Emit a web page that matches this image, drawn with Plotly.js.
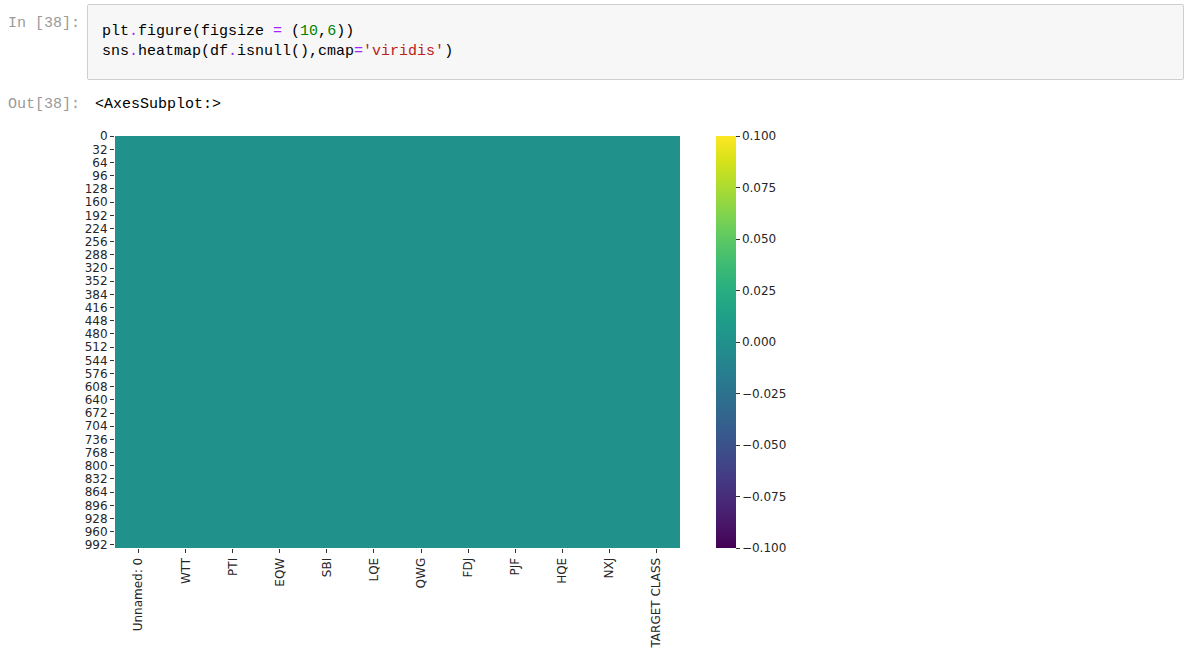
<!DOCTYPE html>
<html>
<head>
<meta charset="utf-8">
<script src="https://cdn.plot.ly/plotly-3.0.1.min.js"></script>
<style>
  html, body { margin: 0; padding: 0; background: #ffffff; width: 1187px; height: 648px; overflow: hidden; }
  #chart { position: absolute; left: 0; top: 0; width: 1187px; height: 648px; }
  .mono { position: absolute; font-family: "Liberation Mono", "DejaVu Sans Mono", monospace; font-size: 15px; line-height: 20px; white-space: pre; }
  .prompt { color: #9a9a9a; }
  .cell { position: absolute; left: 87px; top: 4px; width: 1095px; height: 74px; background: #f7f7f7; border: 1px solid #cfcfcf; border-radius: 2px; }
  .op { color: #aa22ff; }
  .num { color: #008000; }
  .str { color: #ba2121; }
</style>
</head>
<body>
<div id="chart"></div>
<div class="cell"></div>
<div class="mono prompt" style="left:8px; top:14px;">In [38]:</div>
<div class="mono" style="left:102px; top:22px; color:#000;">plt<span class="op">.</span>figure(figsize <span class="op">=</span> (<span class="num">10</span>,<span class="num">6</span>))</div>
<div class="mono" style="left:102px; top:42px; color:#000;">sns<span class="op">.</span>heatmap(df<span class="op">.</span>isnull(),cmap<span class="op">=</span><span class="str">'viridis'</span>)</div>
<div class="mono prompt" style="left:8px; top:95px;">Out[38]:</div>
<div class="mono" style="left:95px; top:95px; color:#000;">&lt;AxesSubplot:&gt;</div>
<script>
// Columns of the DataFrame (x categories)
const columns = ['Unnamed: 0', 'WTT', 'PTI', 'EQW', 'SBI', 'LQE', 'QWG', 'FDJ', 'PJF', 'HQE', 'NXJ', 'TARGET CLASS'];
// Number of rows in df
const nRows = 1000;
// Rows with missing values, per column (df.isnull() is all False)
const missingRows = [[], [], [], [], [], [], [], [], [], [], [], []];
// Y tick labels shown by seaborn
const yTicks = [0, 32, 64, 96, 128, 160, 192, 224, 256, 288, 320, 352, 384, 416, 448, 480, 512, 544, 576, 608, 640, 672, 704, 736, 768, 800, 832, 864, 896, 928, 960, 992];
// Colorbar ticks
const cbTickVals = [-0.1, -0.075, -0.05, -0.025, 0, 0.025, 0.05, 0.075, 0.1];
const cbTickText = ['\u22120.100', '\u22120.075', '\u22120.050', '\u22120.025', '0.000', '0.025', '0.050', '0.075', '0.100'];

const rowIdx = [];
const z = [];
for (let i = 0; i < nRows; i++) {
  rowIdx.push(i);
  z.push(columns.map((c, j) => missingRows[j].includes(i) ? 1 : 0));
}

const W = 1187, H = 648;
const plotL = 115, plotR = 680, plotT = 136, plotB = 548;
const plotW = plotR - plotL;

const trace = {
  type: 'heatmap',
  x: columns,
  y: rowIdx,
  z: z,
  zmin: -0.1,
  zmax: 0.1,
  colorscale: 'Viridis',
  hoverinfo: 'skip',
  colorbar: {
    xref: 'paper', yref: 'paper',
    x: (716 - plotL) / plotW, xanchor: 'left', xpad: 0,
    y: 1, yanchor: 'top', ypad: 0,
    len: 1, lenmode: 'fraction',
    thickness: 20, thicknessmode: 'pixels',
    outlinewidth: 0,
    tickmode: 'array', tickvals: cbTickVals, ticktext: cbTickText,
    ticks: 'outside', ticklen: 4, tickwidth: 1, tickcolor: '#333333',
    tickfont: { family: 'DejaVu Sans', size: 12, color: '#262626' }
  }
};

const layout = {
  width: W, height: H,
  paper_bgcolor: 'rgba(0,0,0,0)',
  plot_bgcolor: 'rgba(0,0,0,0)',
  margin: { l: plotL, r: W - plotR, t: plotT, b: H - plotB, pad: 0 },
  font: { family: 'DejaVu Sans', size: 12, color: '#262626' },
  showlegend: false,
  xaxis: {
    type: 'category',
    tickangle: -90,
    ticks: 'outside', ticklen: 4, tickwidth: 1, tickcolor: '#333333',
    showgrid: false, zeroline: false, showline: false,
    fixedrange: true
  },
  yaxis: {
    range: [nRows - 0.5, -0.5],
    tickmode: 'array', tickvals: yTicks, ticktext: yTicks.map(String),
    ticks: 'outside', ticklen: 4, tickwidth: 1, tickcolor: '#333333',
    showgrid: false, zeroline: false, showline: false,
    fixedrange: true
  }
};

Plotly.newPlot('chart', [trace], layout, { displayModeBar: false, staticPlot: true });
</script>
</body>
</html>
